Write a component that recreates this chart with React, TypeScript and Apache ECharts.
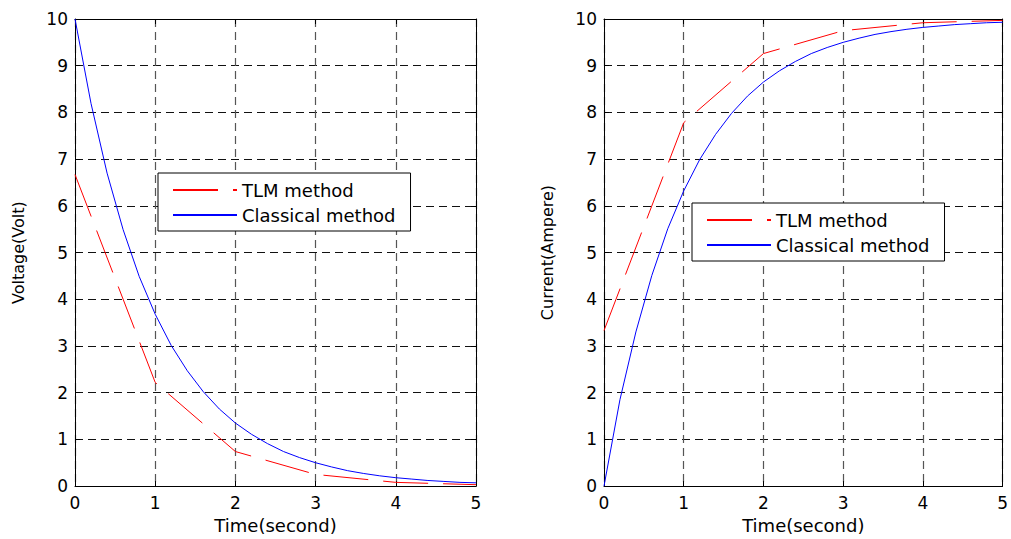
import React, { useEffect, useRef } from "react";
import * as echarts from "echarts";

// ---- data ----
const timeClassical = [0, 0.2, 0.4, 0.6, 0.8, 1, 1.2, 1.4, 1.6, 1.8, 2, 2.2, 2.4, 2.6, 2.8, 3, 3.2, 3.4, 3.6, 3.8, 4, 4.2, 4.4, 4.6, 4.8, 5];
const voltageClassical = [10, 8.19, 6.7, 5.49, 4.49, 3.68, 3.01, 2.47, 2.02, 1.65, 1.35, 1.11, 0.91, 0.74, 0.61, 0.5, 0.41, 0.33, 0.27, 0.22, 0.18, 0.15, 0.12, 0.1, 0.08, 0.07];
const currentClassical = [0, 1.85, 3.3, 4.51, 5.51, 6.32, 6.99, 7.53, 7.98, 8.35, 8.65, 8.89, 9.09, 9.26, 9.39, 9.5, 9.59, 9.67, 9.73, 9.78, 9.82, 9.85, 9.88, 9.9, 9.92, 9.93];

const timeTLM = [0, 1, 2, 3, 4, 5];
const voltageTLM = [6.67, 2.22, 0.74, 0.25, 0.08, 0.03];
const currentTLM = [3.33, 7.78, 9.26, 9.75, 9.92, 9.97];

const seriesNames = ["TLM method", "Classical method"];
const xTitle = "Time(second)";
const yTitles = ["Voltage(Volt)", "Current(Ampere)"];

const FONT = "DejaVu Sans";

function pairs(xs: number[], ys: number[]) {
  return xs.map((x, i) => [x, ys[i]]);
}

function xAxisFor(gridIndex: number, main: boolean) {
  return {
    type: "value",
    gridIndex,
    position: main ? "bottom" : "top",
    min: 0,
    max: 5,
    interval: 1,
    name: main ? xTitle : "",
    nameLocation: "middle",
    nameGap: 21,
    nameTextStyle: { color: "#000", fontFamily: FONT, fontSize: 18 },
    axisLine: { show: true, onZero: false, lineStyle: { color: "#000", width: 1 } },
    axisTick: { show: true, inside: true, length: 5, lineStyle: { color: "#000" } },
    axisLabel: { show: main, color: "#000", fontFamily: FONT, fontSize: 17, margin: 8 },
    splitLine: main
      ? { show: true, lineStyle: { color: "#555", width: 1.2, type: [8, 5] } }
      : { show: false },
  };
}

function yAxisFor(gridIndex: number, main: boolean) {
  return {
    type: "value",
    gridIndex,
    position: main ? "left" : "right",
    min: 0,
    max: 10,
    interval: 1,
    name: main ? yTitles[gridIndex] : "",
    nameLocation: "middle",
    nameRotate: 90,
    nameGap: 49,
    nameTextStyle: { color: "#000", fontFamily: FONT, fontSize: 16 },
    axisLine: { show: true, onZero: false, lineStyle: { color: "#000", width: 1 } },
    axisTick: { show: true, inside: true, length: 5, lineStyle: { color: "#000" } },
    axisLabel: { show: main, color: "#000", fontFamily: FONT, fontSize: 17, margin: 7 },
    splitLine: main
      ? { show: true, lineStyle: { color: "#111", width: 1, type: [8, 5] } }
      : { show: false },
  };
}

function legendAt(left: number, top: number) {
  return {
    orient: "vertical",
    left,
    top,
    data: seriesNames,
    backgroundColor: "#fff",
    borderColor: "#000",
    borderWidth: 1,
    borderRadius: 0,
    padding: [8, 15, 7, 14],
    itemGap: 7,
    itemWidth: 64,
    itemHeight: 14,
    selectedMode: false,
    itemStyle: { opacity: 0 },
    textStyle: { color: "#000", fontFamily: FONT, fontSize: 18, lineHeight: 18 },
  };
}

export default function App() {
  const ref = useRef<HTMLDivElement>(null);

  useEffect(() => {
    if (!ref.current) return;
    const chart = echarts.init(ref.current, undefined, { renderer: "svg" });
    const tlmLine = { color: "#ff0000", width: 1, type: [45, 15] };
    const clsLine = { color: "#0000ff", width: 1, type: "solid" };
    chart.setOption({
      animation: false,
      backgroundColor: "#fff",
      grid: [
        { left: 75, top: 19, width: 401, height: 474 },
        { left: 604, top: 19, width: 402, height: 474 },
      ],
      xAxis: [xAxisFor(0, true), xAxisFor(0, false), xAxisFor(1, true), xAxisFor(1, false)],
      yAxis: [yAxisFor(0, true), yAxisFor(0, false), yAxisFor(1, true), yAxisFor(1, false)],
      legend: [legendAt(158, 173), legendAt(692, 203)],
      series: [
        {
          name: seriesNames[0],
          type: "line",
          xAxisIndex: 0,
          yAxisIndex: 0,
          data: pairs(timeTLM, voltageTLM),
          symbol: "none",
          color: "#ff0000",
          lineStyle: tlmLine,
          z: 3,
        },
        {
          name: seriesNames[1],
          type: "line",
          xAxisIndex: 0,
          yAxisIndex: 0,
          data: pairs(timeClassical, voltageClassical),
          symbol: "none",
          color: "#0000ff",
          lineStyle: clsLine,
          z: 3,
        },
        {
          name: seriesNames[0],
          type: "line",
          xAxisIndex: 2,
          yAxisIndex: 2,
          data: pairs(timeTLM, currentTLM),
          symbol: "none",
          color: "#ff0000",
          lineStyle: tlmLine,
          z: 3,
        },
        {
          name: seriesNames[1],
          type: "line",
          xAxisIndex: 2,
          yAxisIndex: 2,
          data: pairs(timeClassical, currentClassical),
          symbol: "none",
          color: "#0000ff",
          lineStyle: clsLine,
          z: 3,
        },
      ],
    });
    return () => chart.dispose();
  }, []);

  return (
    <div
      ref={ref}
      style={{ position: "fixed", left: 0, top: 0, width: 1011, height: 539, background: "#fff" }}
    />
  );
}
